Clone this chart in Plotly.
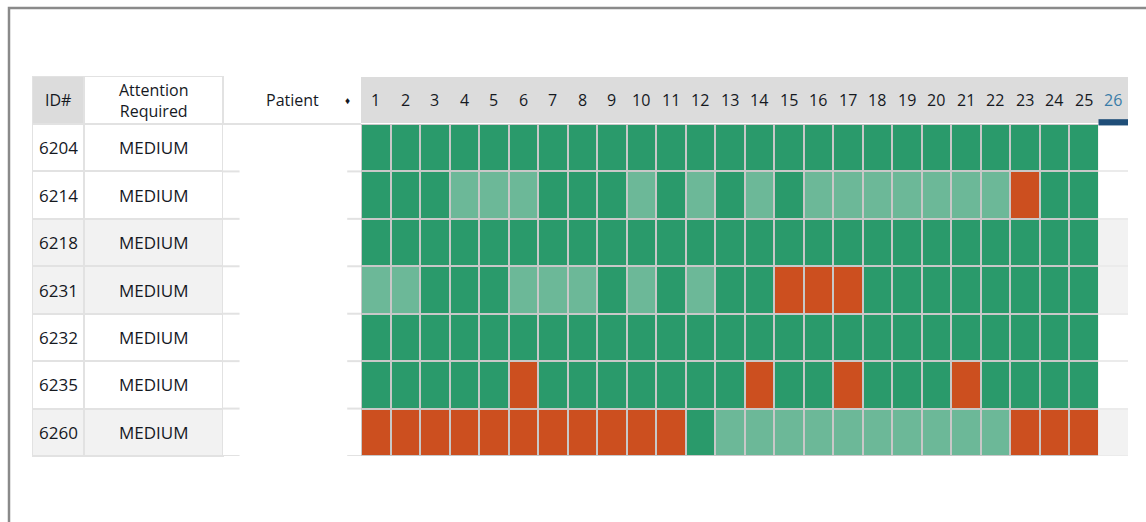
import plotly.graph_objects as go

W, H = 1146, 522

# ---- data ----
patient_ids = ["6204", "6214", "6218", "6231", "6232", "6235", "6260"]
attention = ["MEDIUM", "MEDIUM", "MEDIUM", "MEDIUM", "MEDIUM", "MEDIUM", "MEDIUM"]
days = list(range(1, 27))
current_day = 26

# one letter per recorded day (1..25): D = done, P = partial, M = missed
status_rows = [
    "DDDDDDDDDDDDDDDDDDDDDDDDD",  # 6204
    "DDDPPPDDDPDPDPDPPPPPPPMDD",  # 6214
    "DDDDDDDDDDDDDDDDDDDDDDDDD",  # 6218
    "PPDDDPPPDPDPDDMMMDDDDDDDD",  # 6231
    "DDDDDDDDDDDDDDDDDDDDDDDDD",  # 6232
    "DDDDDMDDDDDDDMDDMDDDMDDDD",  # 6235
    "MMMMMMMMMMMDPPPPPPPPPPMMM",  # 6260
]
row_shade = [0, 0, 1, 1, 0, 0, 1]   # zebra striping of the table rows

# ---- styling ----
FONT = "Open Sans"
TXT = "#15191f"
DARK_GREEN = "#2a9a6b"
LIGHT_GREEN = "#6cb898"
ORANGE = "#cc4f1f"
HEADER_GRAY = "#dcdcdc"
STRIPE = "#f2f2f2"
BORDER = "#e2e2e2"
GRID_GAP = "#c8c8c8"
CUR_BLUE = "#3a7ca8"
CUR_BAR = "#1f4e78"

code = {"D": 0, "P": 1, "M": 2}
z_status = [[code[c] for c in row] for row in status_rows]
rows = list(range(len(patient_ids)))
n_rec = len(status_rows[0])
rec_days = days[:n_rec]


def px_x(p):
    return p / W


def px_y(p):
    return 1 - p / H


fig = go.Figure()

shade_scale = [[0, "#ffffff"], [1, STRIPE]]
gray_scale = [[0, "#ffffff"], [1, HEADER_GRAY]]


def col_heatmap(xa, ya, z, scale, xgap=2, ygap=2, x=None, y=None):
    fig.add_trace(go.Heatmap(
        x=x if x is not None else [0],
        y=y if y is not None else rows,
        z=z, zmin=0, zmax=1,
        colorscale=scale, showscale=False,
        xgap=xgap, ygap=ygap,
        xaxis=xa, yaxis=ya, hoverinfo="skip"
    ))


# table body: ID#, Attention and Patient columns
col_heatmap("x", "y", [[s] for s in row_shade], shade_scale)
col_heatmap("x2", "y", [[s] for s in row_shade], shade_scale)
col_heatmap("x3", "y", [[0] for s in row_shade], shade_scale, xgap=0, ygap=0)

# header row
col_heatmap("x", "y2", [[1]], gray_scale, y=[0])
col_heatmap("x2", "y2", [[0]], shade_scale, y=[0])
col_heatmap("x3", "y2", [[0]], shade_scale, y=[0])
col_heatmap("x4", "y2", [[1] * len(days)], gray_scale, xgap=0, x=days, y=[0])

# status grid
fig.add_trace(go.Heatmap(
    x=rec_days, y=rows, z=z_status, zmin=0, zmax=2,
    colorscale=[[0, DARK_GREEN], [0.5, LIGHT_GREEN], [1, ORANGE]],
    showscale=False, xgap=2, ygap=2,
    xaxis="x4", yaxis="y", hoverinfo="skip"
))
# current (not yet recorded) day column
col_heatmap("x4", "y", [[s] for s in row_shade], shade_scale, xgap=0, x=[current_day])

shapes = [
    # outer frame of the page
    dict(type="rect", xref="paper", yref="paper", x0=px_x(9), x1=1.05,
         y0=-0.05, y1=px_y(8), line=dict(color="#8a8a8a", width=2.5)),
    # table borders (show through the cell gaps)
    dict(type="rect", xref="paper", yref="paper", x0=px_x(32), x1=px_x(224),
         y0=px_y(457), y1=px_y(76), fillcolor=BORDER, line_width=0, layer="below"),
    dict(type="rect", xref="x4", yref="y domain", x0=0.5, x1=n_rec + 0.5,
         y0=0, y1=1, fillcolor=GRID_GAP, line_width=0, layer="below"),
    dict(type="rect", xref="x4", yref="y domain", x0=n_rec + 0.5, x1=len(days) + 0.5,
         y0=0, y1=1, fillcolor="#ebebeb", line_width=0, layer="below"),
    # header bottom line in Patient column
    dict(type="line", xref="x3 domain", yref="y2 domain", x0=0, x1=1, y0=0, y1=0,
         line=dict(color=BORDER, width=2)),
    # current-day marker
    dict(type="rect", xref="x4", yref="y2 domain",
         x0=current_day - 0.5, x1=current_day + 0.5,
         y0=-0.03, y1=0.1, fillcolor=CUR_BAR, line_width=0),
]
# row separators only peek out at the edges of the Patient column
for r in rows:
    for x0, x1 in [(0, 0.12), (0.9, 1)]:
        shapes.append(dict(type="line", xref="x3 domain", yref="y",
                           x0=x0, x1=x1, y0=r + 0.5, y1=r + 0.5,
                           line=dict(color=BORDER, width=2)))

annotations = [
    dict(text="ID#", x=0, y=0, xref="x", yref="y2", showarrow=False,
         font=dict(size=16, color=TXT)),
    dict(text="Attention<br>Required", x=0, y=0, xref="x2", yref="y2", showarrow=False,
         font=dict(size=16, color=TXT)),
    dict(text="Patient", x=0, y=0, xref="x3", yref="y2", showarrow=False,
         font=dict(size=16, color=TXT)),
    dict(text="♦", x=0.935, y=0, xref="x3 domain", yref="y2", showarrow=False,
         font=dict(size=10, color=TXT)),
]
for d in days:
    annotations.append(dict(
        text=str(d), x=d, y=0, xref="x4", yref="y2", showarrow=False,
        font=dict(size=16, color=CUR_BLUE if d == current_day else TXT)
    ))
for r, pid, att in zip(rows, patient_ids, attention):
    annotations.append(dict(text=pid, x=0, y=r, xref="x", yref="y", showarrow=False,
                            font=dict(size=17, color=TXT)))
    annotations.append(dict(text=att, x=0, y=r, xref="x2", yref="y", showarrow=False,
                            font=dict(size=17, color=TXT)))

hidden = dict(visible=False, fixedrange=True)
fig.update_layout(
    width=W, height=H,
    margin=dict(l=0, r=0, t=0, b=0),
    paper_bgcolor="white",
    plot_bgcolor="rgba(0,0,0,0)",
    font=dict(family=FONT, color=TXT),
    xaxis=dict(domain=[px_x(32), px_x(84)], range=[-0.5, 0.5], anchor="y", **hidden),
    xaxis2=dict(domain=[px_x(84), px_x(223)], range=[-0.5, 0.5], anchor="y", **hidden),
    xaxis3=dict(domain=[px_x(223), px_x(361)], range=[-0.5, 0.5], anchor="y", **hidden),
    xaxis4=dict(domain=[px_x(361), px_x(1128)], range=[0.5, len(days) + 0.5],
                anchor="y", **hidden),
    yaxis=dict(domain=[px_y(456), px_y(124)], range=[len(rows) - 0.5, -0.5],
               anchor="x", **hidden),
    yaxis2=dict(domain=[px_y(124), px_y(76)], range=[0.5, -0.5], anchor="x", **hidden),
    shapes=shapes,
    annotations=annotations,
    showlegend=False,
)

fig.write_html("out.html", config={"displayModeBar": False},
               post_script="document.body.style.margin = '0';")
